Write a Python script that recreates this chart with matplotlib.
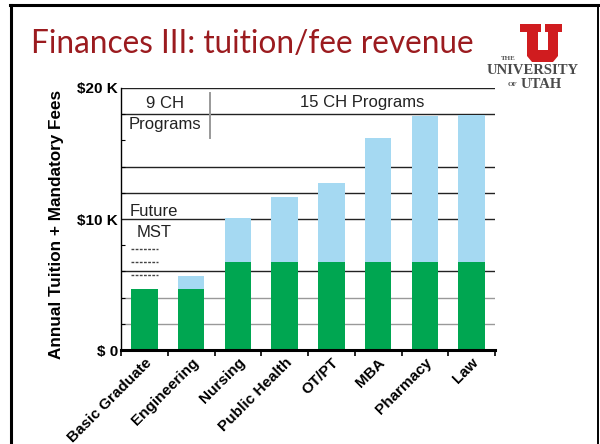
import matplotlib
matplotlib.use("Agg")
import matplotlib.pyplot as plt
from matplotlib.patches import Polygon
from matplotlib.lines import Line2D
import numpy as np

categories = ["Basic Graduate", "Engineering", "Nursing", "Public Health",
              "OT/PT", "MBA", "Pharmacy", "Law"]
current_mst = [4.65, 4.65, 6.7, 6.7, 6.7, 6.7, 6.7, 6.7]          # $K, green
program_fees = [0.0, 1.0, 3.35, 5.0, 6.05, 9.5, 11.2, 11.25]      # $K, light blue
ytick_vals = [0, 10, 20]
ytick_labels = ["$ 0", "$10 K", "$20 K"]
grid_dark = [6, 10, 12, 14, 18, 20]
grid_light = [2, 4]

GREEN = "#00A651"
BLUE = "#A5D9F2"
RED = "#9B1B1F"

W, H = 600, 444
fig = plt.figure(figsize=(W / 100, H / 100), dpi=100)
fig.patch.set_facecolor("white")

def fx(px):
    return px / W

def fy(py):
    return 1 - py / H

# slide border
fig.add_artist(Line2D([fx(11), fx(11)], [fy(5), 0], transform=fig.transFigure, color="black", lw=2.2))
fig.add_artist(Line2D([fx(10), fx(598)], [fy(5), fy(5)], transform=fig.transFigure, color="black", lw=2.2))
fig.add_artist(Line2D([fx(597.5), fx(597.5)], [fy(5), 0], transform=fig.transFigure, color="black", lw=1.4))

# title
fig.text(fx(31), fy(53), "Finances III: tuition/fee revenue", color=RED,
         fontsize=22.7, family=["Lato", "DejaVu Sans"], weight="normal", va="baseline", ha="left")

# logo
upts = [(520, 24), (541, 24), (541, 32), (538, 32), (538, 50), (548, 50), (548, 32), (545, 32),
        (545, 24), (562, 24), (562, 32), (558, 32), (558, 56), (553, 62), (532, 62), (527, 56),
        (527, 32), (520, 32)]
fig.add_artist(Polygon([(fx(a), fy(b)) for a, b in upts], closed=True, transform=fig.transFigure,
                       facecolor="#D01C1F", edgecolor="none"))
fig.text(fx(508), fy(58), "THE", fontsize=5, family="Liberation Serif", weight="bold",
         color="#555555", ha="center", va="center")
fig.text(fx(532.5), fy(71), "UNIVERSITY", fontsize=10.5, family="Liberation Serif", weight="bold",
         color="#4a4a4a", ha="center", va="center")
fig.text(fx(512), fy(84), "OF", fontsize=5, family="Liberation Serif", weight="bold",
         color="#4a4a4a", ha="center", va="center")
fig.text(fx(541), fy(85), "UTAH", fontsize=10.5, family="Liberation Serif", weight="bold",
         color="#4a4a4a", ha="center", va="center")

# axes
ax = fig.add_axes([fx(121), fy(350), fx(495) - fx(121), fy(88) - fy(350)])
x = np.arange(len(categories))
ax.set_xlim(-0.5, len(categories) - 0.5)
ax.set_ylim(0, 20)

for g in grid_dark:
    ax.axhline(g, color="#222222", lw=1.0, zorder=0.5)
for g in grid_light:
    ax.axhline(g, color="#999999", lw=1.0, zorder=0.5)

ax.bar(x, current_mst, width=0.57, color=GREEN, zorder=2)
ax.bar(x, program_fees, width=0.57, bottom=current_mst, color=BLUE, zorder=2)

for s in ["top", "right"]:
    ax.spines[s].set_visible(False)
ax.spines["bottom"].set_linewidth(2.2)
ax.spines["left"].set_linewidth(1.0)
ax.spines["bottom"].set_zorder(3)

ax.set_yticks(ytick_vals)
ax.set_yticklabels(ytick_labels, fontsize=11, weight="bold", family="Liberation Sans")
ax.set_yticks(np.arange(0, 21, 2), minor=True)
ax.tick_params(axis="y", which="major", length=0, pad=2)
ax.tick_params(axis="y", which="minor", length=3, direction="in", width=0.8)

ax.set_xticks(x)
ax.set_xticklabels(categories, rotation=45, ha="right", va="top", rotation_mode="anchor",
                   fontsize=11, weight="bold", family="Liberation Sans")
ax.set_xticks(np.arange(-0.5, len(categories) + 0.5, 1), minor=True)
ax.tick_params(axis="x", which="major", length=0, pad=4)
ax.tick_params(axis="x", which="minor", length=4, width=1.2, direction="out")

# y label
fig.text(fx(57), fy(224), "Annual Tuition + Mandatory Fees", rotation=90, fontsize=12.3,
         weight="bold", family="Liberation Sans", ha="center", va="center")

# annotations
fig.text(fx(165), fy(103), "9 CH", fontsize=12, family="Liberation Sans", ha="center", va="center", color="#222222")
fig.text(fx(165), fy(125), "Programs", fontsize=12, family="Liberation Sans", ha="center", va="center", color="#222222")
fig.text(fx(362), fy(103), "15 CH Programs", fontsize=12, family="Liberation Sans", ha="center", va="center", color="#222222")
fig.add_artist(Line2D([fx(210), fx(210)], [fy(93), fy(138)], transform=fig.transFigure, color="#999999", lw=1.4))
fig.text(fx(130), fy(211), "Future", fontsize=12, family="Liberation Sans", ha="left", va="center", color="#222222")
fig.text(fx(137), fy(232), "MST", fontsize=12, family="Liberation Sans", ha="left", va="center", color="#222222")
for yy in (249, 262, 275):
    fig.add_artist(Line2D([fx(131), fx(158)], [fy(yy), fy(yy)], transform=fig.transFigure,
                          color="#444444", lw=1.0, linestyle=(0, (2, 1))))

fig.savefig("out.png", dpi=100, facecolor="white")
